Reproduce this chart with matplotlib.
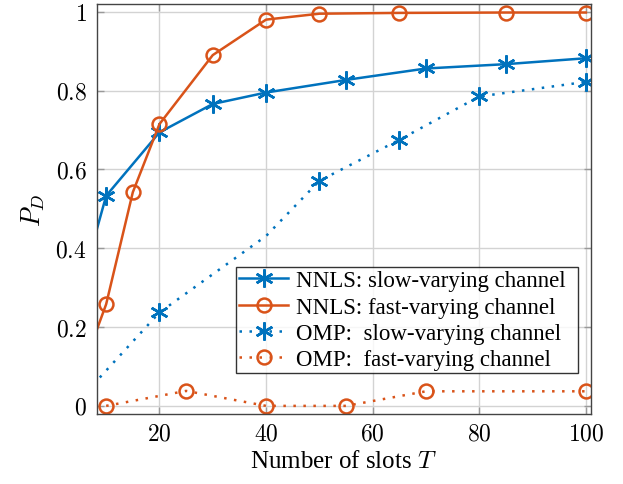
import matplotlib
matplotlib.use("Agg")
import matplotlib.pyplot as plt
from matplotlib.ticker import FixedLocator, FuncFormatter

plt.rcParams['font.family'] = ['Liberation Serif', 'DejaVu Serif']
plt.rcParams['mathtext.fontset'] = 'cm'

# data; first point of the first three series lies left of the axis
nnls_slow_x = [5, 10, 20, 30, 40, 55, 70, 85, 100]
nnls_slow_y = [0.29, 0.533, 0.694, 0.766, 0.795, 0.827, 0.856, 0.867, 0.882]
nnls_slow_marks = [1, 2, 3, 4, 5, 6, 7, 8]

nnls_fast_x = [5, 10, 15, 20, 30, 40, 50, 65, 85, 100]
nnls_fast_y = [0.073, 0.258, 0.542, 0.715, 0.890, 0.980, 0.995, 0.997, 0.998, 0.998]
nnls_fast_marks = [1, 2, 3, 4, 5, 6, 7, 8, 9]

omp_slow_x = [5, 20, 40, 50, 65, 80, 100]
omp_slow_y = [0.016, 0.237, 0.431, 0.571, 0.675, 0.785, 0.822]
omp_slow_marks = [1, 3, 4, 5, 6]

omp_fast_x = [10, 25, 40, 55, 70, 100]
omp_fast_y = [0.0, 0.038, 0.0, 0.0, 0.037, 0.037]

labels = ['NNLS: slow-varying channel', 'NNLS: fast-varying channel',
          'OMP:  slow-varying channel', 'OMP:  fast-varying channel']

blue = '#0072BD'
orange = '#D95319'
star = (6, 2, 0)

fig = plt.figure(figsize=(6.23, 4.85), dpi=100)
ax = fig.add_axes([0.155, 0.144, 0.794, 0.846])

ax.plot(nnls_slow_x, nnls_slow_y, color=blue, lw=1.8, marker=star, ms=13, mew=1.8,
        markevery=nnls_slow_marks, label=labels[0])
ax.plot(nnls_fast_x, nnls_fast_y, color=orange, lw=1.8, marker='o', ms=10, mew=1.8,
        mfc='none', markevery=nnls_fast_marks, label=labels[1])
ax.plot(omp_slow_x, omp_slow_y, color=blue, lw=1.8, ls=(0, (1, 3)), marker=star, ms=13,
        mew=1.8, markevery=omp_slow_marks, label=labels[2])
ax.plot(omp_fast_x, omp_fast_y, color=orange, lw=1.8, ls=(0, (1, 3)), marker='o', ms=10,
        mew=1.8, mfc='none', label=labels[3])

ax.set_xlim(8.2, 101)
ax.set_ylim(-0.021, 1.02)
ax.xaxis.set_major_locator(FixedLocator([20, 40, 60, 80, 100]))
ax.yaxis.set_major_locator(FixedLocator([0, 0.2, 0.4, 0.6, 0.8, 1]))
ax.xaxis.set_major_formatter(FuncFormatter(lambda v, p: r'$%g$' % v))
ax.yaxis.set_major_formatter(FuncFormatter(lambda v, p: r'$%g$' % v))
ax.tick_params(direction='in', length=5, width=1, color='#999999', labelsize=17,
               top=True, right=True, pad=7)
ax.grid(True, color='#d3d3d3', lw=1)
ax.set_axisbelow(True)
for s in ax.spines.values():
    s.set_color('#444444')
    s.set_linewidth(1)

ax.set_xlabel(r'Number of slots $T$', fontsize=18, labelpad=4)
ax.set_ylabel(r'$P_D$', fontsize=19, labelpad=6)

leg = ax.legend(loc='lower left', bbox_to_anchor=(0.282, 0.1, 0.692, 0.3), mode='expand',
                fontsize=16.5, frameon=True, fancybox=False, edgecolor='black',
                borderpad=0.15, labelspacing=0.22, handlelength=2.1, handletextpad=0.35,
                borderaxespad=0)
leg.get_frame().set_linewidth(1)

fig.savefig('out.png', dpi=100)
